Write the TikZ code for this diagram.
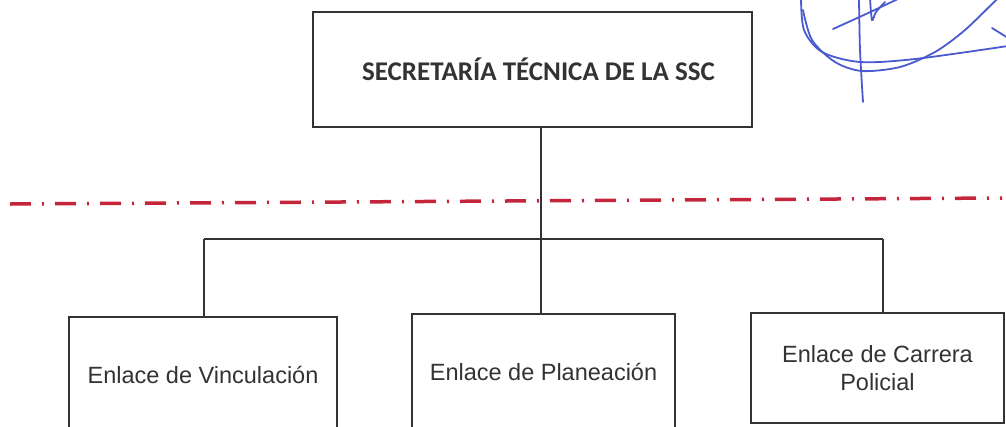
\documentclass[tikz,border=0pt]{standalone}
\usepackage{fontspec}
\setmainfont{Liberation Sans}
\newfontfamily\titlefont{Carlito}
\usetikzlibrary{positioning}

\definecolor{ink}{HTML}{333333}
\definecolor{cutred}{HTML}{C4253A}
\definecolor{pen}{HTML}{4A5BD0}

\tikzset{unit/.style={draw=ink, line width=1.6pt, text=ink, inner sep=0pt,
                      align=center, font=\fontsize{23.5}{28}\selectfont},
         link/.style={draw=ink, line width=1.5pt},
         cut/.style={cutred, line width=3.5pt,
                     dash pattern=on 21pt off 11pt on 2pt off 11pt},
         penline/.style={pen, line width=1.8pt, line cap=round}}

\begin{document}
\begin{tikzpicture}[x=1pt, y=-1pt]
        \clip (0,0) rectangle (1006,426);
        \fill[white] (0,0) rectangle (1006,426);

        % oficina titular
        \node[unit, minimum width=439pt, minimum height=115pt] (stec) at (532.5,69.5) {};
        \node[text=ink, font=\titlefont\bfseries\fontsize{27}{32}\selectfont] (stectxt)
            at ([xshift=6pt]stec.center) {SECRETARÍA TÉCNICA DE LA SSC};

        % enlaces
        \node[unit, minimum width=268pt, minimum height=116pt] (vinc) at (203,375) {Enlace de Vinculación};
        \node[unit, minimum width=263pt, minimum height=116pt] (plan) at (543.5,372) {Enlace de Planeación};
        \node[unit, minimum width=253pt, minimum height=110pt] (carr) at (877.5,368) {Enlace de Carrera\\Policial};

        \draw[cut] (10,204) -- (1002,198);

        \coordinate (fork) at (541,239);
        \coordinate (forkL) at (204,239);
        \coordinate (forkR) at (883,239);
        \draw[link] (stec.south -| fork) -- (fork);
        \draw[link] (forkL) -- (forkR);
        \draw[link] (forkL) -- (vinc.north -| forkL);
        \draw[link] (fork) -- (plan.north -| fork);
        \draw[link] (forkR) -- (carr.north -| forkR);

        % firma
        \draw[penline] plot[smooth] coordinates {(801,-2) (804,30) (822,52) (860,62) (915,59) (1008,46)};
        \draw[penline] plot[smooth] coordinates {(803,10) (812,40) (835,62) (862,71) (900,67) (935,52) (965,30) (998,-2)};
        \draw[penline] plot[smooth] coordinates {(859,-2) (860,50) (863,102)};
        \draw[penline] plot[smooth] coordinates {(833,29) (866,14) (900,-2)};
        \draw[penline] plot[smooth] coordinates {(870,-2) (872,20) (876,12) (885,2)};
        \draw[penline] (992,28) -- (1008,38);
    \end{tikzpicture}
\end{document}
